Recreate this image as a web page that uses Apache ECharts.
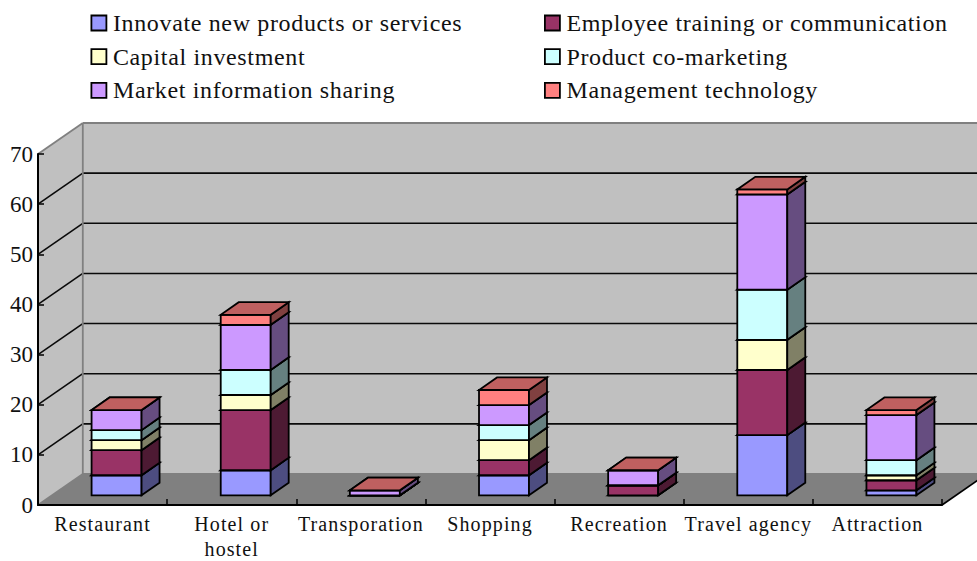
<!DOCTYPE html>
<html>
<head>
<meta charset="utf-8">
<style>
html,body{margin:0;padding:0;background:#fff}
#c{width:977px;height:561px}
#c text[style*="24px"]{letter-spacing:.65px}
#c text[style*="20px"]{letter-spacing:1.1px}
</style>
<script src="https://cdn.jsdelivr.net/npm/echarts@6/dist/echarts.min.js"></script>
</head>
<body>
<div id="c"></div>
<script>
const categories = ['Restaurant', 'Hotel or\nhostel', 'Transporation', 'Shopping', 'Recreation', 'Travel agency', 'Attraction'];
const innovate   = [4, 5, 0, 4, 0, 12, 1];
const employee   = [5, 12, 0, 3, 2, 13, 2];
const capital    = [2, 3, 0, 4, 0, 6, 1];
const comarket   = [2, 5, 0, 3, 0, 10, 3];
const marketInfo = [4, 9, 1, 4, 3, 19, 9];
const management = [0, 2, 0, 3, 0, 1, 1];
const yTicks = [0, 10, 20, 30, 40, 50, 60, 70];

const FONT = '"Liberation Serif","Times New Roman",serif';
const WALL_DX = 44.8, WALL_DY = 31;
const BAR_OX = 14, BAR_OY = 9.7, BAR_DX = 18, BAR_DY = 12.6, BAR_FRAC = 0.387;

const seriesDefs = [
  {name: 'Innovate new products or services', values: innovate,  color: '#9999FF', side: '#4D4D80', top: '#7373BF'},
  {name: 'Employee training or communication', values: employee, color: '#993366', side: '#4D1A33', top: '#73264D'},
  {name: 'Capital investment', values: capital,                  color: '#FFFFCC', side: '#808066', top: '#BFBF99'},
  {name: 'Product co-marketing', values: comarket,               color: '#CCFFFF', side: '#668080', top: '#99BFBF'},
  {name: 'Market information sharing', values: marketInfo,       color: '#CC99FF', side: '#664D80', top: '#9973BF'},
  {name: 'Management technology', values: management,            color: '#FF8080', side: '#804040', top: '#BF6060'}
];

function poly(points, fill, stroke, lw) {
  return {type: 'polygon', shape: {points}, style: {fill, stroke: stroke || 'none', lineWidth: lw || 0, lineJoin: 'miter'}};
}
function seg(x1, y1, x2, y2, stroke, lw) {
  return {type: 'line', shape: {x1, y1, x2, y2}, style: {stroke, lineWidth: lw, fill: 'none'}};
}

function renderWalls(params, api) {
  const cs = params.coordSys;
  const xl = cs.x, xr = cs.x + cs.width;
  const y0 = api.coord([0, yTicks[0]])[1];
  const yT = api.coord([0, yTicks[yTicks.length - 1]])[1];
  const kids = [
    poly([[xl, y0], [xl, yT], [xl + WALL_DX, yT - WALL_DY], [xl + WALL_DX, y0 - WALL_DY]], '#C0C0C0'),
    poly([[xl + WALL_DX, y0 - WALL_DY], [xl + WALL_DX, yT - WALL_DY], [xr + WALL_DX, yT - WALL_DY], [xr + WALL_DX, y0 - WALL_DY]], '#C0C0C0'),
    poly([[xl, y0], [xl + WALL_DX, y0 - WALL_DY], [xr + WALL_DX, y0 - WALL_DY], [xr, y0]], '#808080')
  ];
  yTicks.forEach(function (t, i) {
    const y = api.coord([0, t])[1];
    const edge = i === 0 || i === yTicks.length - 1;
    const c = edge ? '#808080' : '#0a0a0a';
    const lw = edge ? 1.8 : 1.6;
    kids.push(seg(xl, y, xl + WALL_DX, y - WALL_DY, c, lw));
    kids.push(seg(xl + WALL_DX, y - WALL_DY, xr + WALL_DX, y - WALL_DY, c, lw));
  });
  kids.push(seg(xl + WALL_DX, y0 - WALL_DY, xl + WALL_DX, yT - WALL_DY, '#808080', 1.8));
  kids.push(seg(xr, y0, xr + WALL_DX, y0 - WALL_DY, '#000', 1.6));
  return {type: 'group', children: kids};
}

function makeRender(def) {
  return function (params, api) {
    const cat = api.value(0), lo = api.value(1), hi = api.value(2);
    const band = api.size([1, 0])[0];
    const w = band * BAR_FRAC;
    const a = api.coord([cat, lo]), b = api.coord([cat, hi]);
    const xL = a[0] + BAR_OX - w / 2, xR = xL + w;
    const yB = a[1] - BAR_OY, yT = b[1] - BAR_OY;
    const lw = 1.8, k = '#000';
    return {type: 'group', children: [
      poly([[xL, yB], [xR, yB], [xR, yT], [xL, yT]], def.color, k, lw),
      poly([[xR, yB], [xR + BAR_DX, yB - BAR_DY], [xR + BAR_DX, yT - BAR_DY], [xR, yT]], def.side, k, lw),
      poly([[xL, yT], [xR, yT], [xR + BAR_DX, yT - BAR_DY], [xL + BAR_DX, yT - BAR_DY]], def.top, k, lw)
    ]};
  };
}

const running = categories.map(() => 0);
const barSeries = seriesDefs.map(function (def, si) {
  const data = def.values.map(function (v, i) {
    const lo = running[i];
    running[i] = lo + v;
    return [i, lo, lo + v];
  });
  return {
    type: 'custom', name: def.name, z: 4 + si, silent: true,
    itemStyle: {color: def.color},
    encode: {x: 0, y: [1, 2]},
    data, renderItem: makeRender(def)
  };
});

function legendAt(left, names) {
  return {
    show: true, orient: 'vertical', left, top: 11, padding: 0, itemGap: 9.7,
    icon: 'rect', itemWidth: 15, itemHeight: 15,
    itemStyle: {borderColor: '#000', borderWidth: 1.8},
    textStyle: {fontFamily: FONT, fontSize: 24, color: '#111', padding: [0, 0, 0, 1.5], lineHeight: 24},
    selectedMode: false, data: names
  };
}

const chart = echarts.init(document.getElementById('c'), null, {width: 977, height: 561, renderer: 'svg'});
chart.setOption({
  animation: false,
  backgroundColor: '#fff',
  legend: [
    legendAt(90.5, [seriesDefs[0].name, seriesDefs[2].name, seriesDefs[4].name]),
    legendAt(544, [seriesDefs[1].name, seriesDefs[3].name, seriesDefs[5].name])
  ],
  grid: {left: 38, top: 154, width: 904, height: 351, containLabel: false, outerBoundsMode: 'none'},
  xAxis: {
    type: 'category', data: categories, z: 3,
    axisLine: {lineStyle: {color: '#000', width: 2}},
    axisTick: {show: true, inside: true, length: 6, alignWithLabel: false, lineStyle: {color: '#000', width: 1.5}},
    axisLabel: {interval: 0, fontFamily: FONT, fontSize: 20, color: '#111', margin: 6, lineHeight: 25},
    splitLine: {show: false}
  },
  yAxis: {
    type: 'value', min: 0, max: 70, interval: 10, z: 3,
    axisLine: {show: true, lineStyle: {color: '#000', width: 2}},
    axisTick: {show: true, inside: true, length: 6, lineStyle: {color: '#000', width: 1.5}},
    axisLabel: {fontFamily: FONT, fontSize: 23, color: '#111', margin: 5, padding: [3, 0, 0, 0]},
    splitLine: {show: false}
  },
  series: [{
    type: 'custom', name: 'walls', z: 1, silent: true,
    data: [[0, 0]], encode: {x: 0, y: 1},
    renderItem: renderWalls
  }].concat(barSeries)
});
</script>
</body>
</html>
